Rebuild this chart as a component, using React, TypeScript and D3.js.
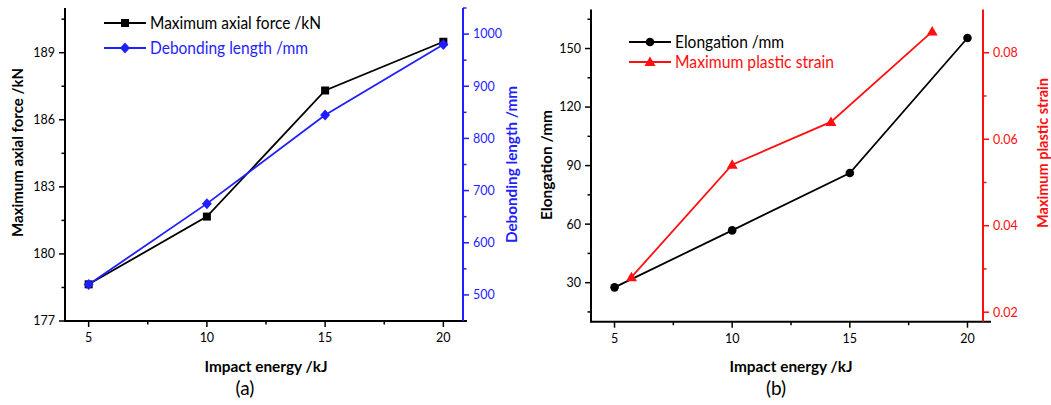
import * as d3 from 'd3';

// impact energy for every test
const energy = [5, 10, 15, 20];

// panel (a)
const axialForce = [178.64, 181.67, 187.31, 189.49];
const debondLength = [520, 675, 845, 980];

// panel (b)
const elongation = [27.6, 56.8, 86.2, 155.4];
const strainEnergy = [5.72, 10, 14.2, 18.5];
const plasticStrain = [0.0281, 0.0541, 0.064, 0.0849];

const xTicks = [5, 10, 15, 20];
const xMinor = [7.5, 12.5, 17.5];
const forceTicks = [177, 180, 183, 186, 189];
const forceMinor = [178.5, 181.5, 184.5, 187.5, 190.5];
const debondTicks = [500, 600, 700, 800, 900, 1000];
const debondMinor = [550, 650, 750, 850, 950, 1050];
const elongTicks = [30, 60, 90, 120, 150];
const elongMinor = [15, 45, 75, 105, 135, 165];
const strainTicks = [0.02, 0.04, 0.06, 0.08];
const strainMinor = [0.03, 0.05, 0.07];

const FONT = 'Lato, "Open Sans", sans-serif';
const BLUE = '#1f1fff';
const RED = '#ff1010';

type Pt = [number, number];

function YAxis({ x, scale, ticks, minor, side, color, fmt }) {
  const [y0, y1] = scale.range();
  const dir = side === 'left' ? -1 : 1;
  return (
    <g>
      <line x1={x} x2={x} y1={y0} y2={y1} stroke={color} strokeWidth={2} />
      {ticks.map((v) => (
        <g key={v}>
          <line x1={x} x2={x + dir * 6} y1={scale(v)} y2={scale(v)} stroke={color} strokeWidth={1.5} />
          <text
            x={x + dir * 10}
            y={scale(v)}
            dy="0.35em"
            textAnchor={side === 'left' ? 'end' : 'start'}
            fontSize={12.5}
            fill={color}
          >
            {fmt(v)}
          </text>
        </g>
      ))}
      {minor.map((v) => (
        <line key={v} x1={x} x2={x + dir * 3.5} y1={scale(v)} y2={scale(v)} stroke={color} strokeWidth={1.5} />
      ))}
    </g>
  );
}

function XAxis({ y, scale }) {
  const [x0, x1] = scale.range();
  return (
    <g>
      <line x1={x0 - 1} x2={x1} y1={y} y2={y} stroke="#000" strokeWidth={2} />
      {xTicks.map((v) => (
        <g key={v}>
          <line x1={scale(v)} x2={scale(v)} y1={y} y2={y + 6} stroke="#000" strokeWidth={1.5} />
          <text x={scale(v)} y={y + 21} textAnchor="middle" fontSize={12.5} fill="#000">
            {v}
          </text>
        </g>
      ))}
      {xMinor.map((v) => (
        <line key={v} x1={scale(v)} x2={scale(v)} y1={y} y2={y + 3.5} stroke="#000" strokeWidth={1.5} />
      ))}
    </g>
  );
}

function Marker({ kind, x, y, color }) {
  if (kind === 'square') return <rect x={x - 4} y={y - 4} width={8} height={8} fill={color} />;
  if (kind === 'diamond') return <path d={`M${x},${y - 5.5}L${x + 5},${y}L${x},${y + 5.5}L${x - 5},${y}Z`} fill={color} />;
  if (kind === 'circle') return <circle cx={x} cy={y} r={4.3} fill={color} />;
  return <path d={`M${x},${y - 5.5}L${x + 5.5},${y + 4}L${x - 5.5},${y + 4}Z`} fill={color} />;
}

function Series({ pts, color, kind }) {
  const line = d3.line();
  return (
    <g>
      <path d={line(pts)} fill="none" stroke={color} strokeWidth={1.8} />
      {pts.map(([x, y], i) => (
        <Marker key={i} kind={kind} x={x} y={y} color={color} />
      ))}
    </g>
  );
}

function LegendRow({ x, y, color, kind, label, len }) {
  return (
    <g>
      <line x1={x} x2={x + 42} y1={y} y2={y} stroke={color} strokeWidth={1.8} />
      <Marker kind={kind} x={x + 21} y={y} color={color} />
      <text x={x + 46} y={y} dy="0.35em" fontSize={16.5} fill={color} textLength={len} lengthAdjust="spacingAndGlyphs">
        {label}
      </text>
    </g>
  );
}

function VTitle({ x, y, color, text, len }) {
  return (
    <text
      transform={`translate(${x},${y}) rotate(-90)`}
      textAnchor="middle"
      dy="0.35em"
      fontSize={15.5}
      fontWeight="bold"
      fill={color}
      textLength={len}
      lengthAdjust="spacingAndGlyphs"
    >
      {text}
    </text>
  );
}

export default function App() {
  // panel (a) scales
  const xA = d3.scaleLinear().domain([4, 21]).range([65, 467]);
  const yForce = d3.scaleLinear().domain([177, 191]).range([321, 8]);
  const yDebond = d3.scaleLinear().domain([450, 1050]).range([321, 8]);
  const rightA = 463;

  // panel (b) scales
  const xB = d3.scaleLinear().domain([4, 21]).range([591, 991]);
  const yElong = d3.scaleLinear().domain([10, 170]).range([321.7, 9.5]);
  const yStrain = d3.scaleLinear().domain([0.0178, 0.09]).range([321.7, 9.5]);
  const rightB = 983;

  const forcePts: Pt[] = energy.map((e, i) => [xA(e), yForce(axialForce[i])]);
  const debondPts: Pt[] = energy.map((e, i) => [xA(e), yDebond(debondLength[i])]);
  const elongPts: Pt[] = energy.map((e, i) => [xB(e), yElong(elongation[i])]);
  const strainPts: Pt[] = strainEnergy.map((e, i) => [xB(e), yStrain(plasticStrain[i])]);

  return (
    <svg
      width={1051}
      height={405}
      style={{ position: 'absolute', left: 0, top: 0, background: '#fff' }}
      fontFamily={FONT}
    >
      {/* (a) */}
      <XAxis y={321} scale={xA} />
      <YAxis x={65} scale={yForce} ticks={forceTicks} minor={forceMinor} side="left" color="#000" fmt={(v) => v} />
      <YAxis x={rightA} scale={yDebond} ticks={debondTicks} minor={debondMinor} side="right" color={BLUE} fmt={(v) => v} />
      <Series pts={forcePts} color="#000" kind="square" />
      <Series pts={debondPts} color={BLUE} kind="diamond" />
      <LegendRow x={104} y={23} color="#000" kind="square" label="Maximum axial force /kN" len={171} />
      <LegendRow x={104} y={48} color={BLUE} kind="diamond" label="Debonding length /mm" len={158} />
      <VTitle x={18} y={152.5} color="#000" text="Maximum axial force /kN" len={169} />
      <VTitle x={512} y={164.5} color={BLUE} text="Debonding length /mm" len={157} />
      <text x={266} y={372} textAnchor="middle" fontSize={15.5} fontWeight="bold" textLength={123} lengthAdjust="spacingAndGlyphs">
        Impact energy /kJ
      </text>
      <text x={245} y={395} textAnchor="middle" fontSize={19}>
        (a)
      </text>

      {/* (b) */}
      <XAxis y={321.7} scale={xB} />
      <YAxis x={591} scale={yElong} ticks={elongTicks} minor={elongMinor} side="left" color="#000" fmt={(v) => v} />
      <YAxis x={rightB} scale={yStrain} ticks={strainTicks} minor={strainMinor} side="right" color={RED} fmt={d3.format('.2f')} />
      <Series pts={elongPts} color="#000" kind="circle" />
      <Series pts={strainPts} color={RED} kind="triangle" />
      <LegendRow x={629} y={42} color="#000" kind="circle" label="Elongation /mm" len={109} />
      <LegendRow x={629} y={62} color={RED} kind="triangle" label="Maximum plastic strain" len={159} />
      <VTitle x={547} y={165} color="#000" text="Elongation /mm" len={110} />
      <VTitle x={1043} y={153} color={RED} text="Maximum plastic strain" len={150} />
      <text x={791} y={372} textAnchor="middle" fontSize={15.5} fontWeight="bold" textLength={123} lengthAdjust="spacingAndGlyphs">
        Impact energy /kJ
      </text>
      <text x={776} y={395} textAnchor="middle" fontSize={19}>
        (b)
      </text>
    </svg>
  );
}
